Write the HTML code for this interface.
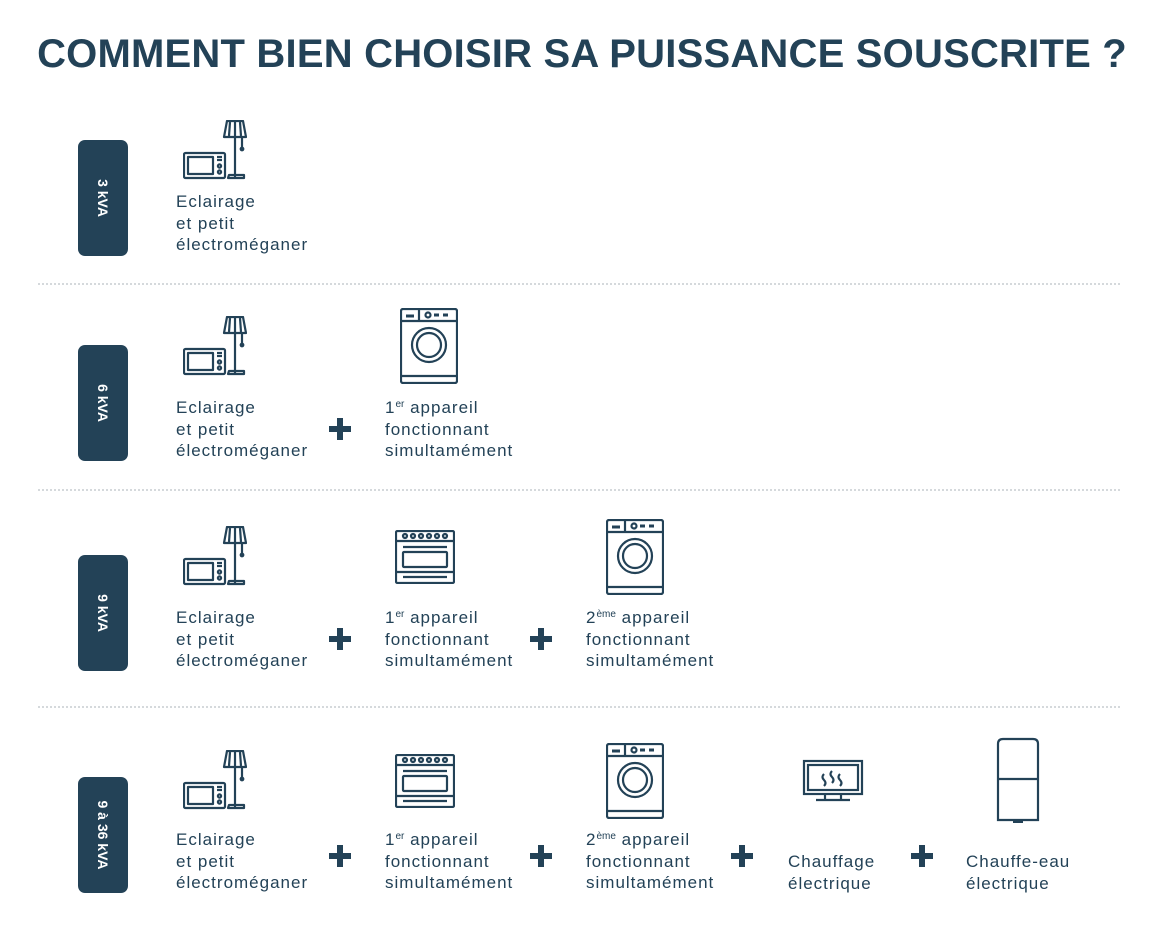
<!DOCTYPE html>
<html><head><meta charset="utf-8"><style>
body{margin:0;width:1164px;height:935px;background:#fff;position:relative;overflow:hidden;font-family:"Liberation Sans",sans-serif;color:#234257}
.t{position:absolute;left:0;width:1164px;top:32px;text-align:center;font-weight:bold;font-size:40px;letter-spacing:0.2px}
.b{position:absolute;left:78px;width:50px;height:116px;background:#234257;border-radius:7px}
.b span{position:absolute;left:50%;top:50%;transform:translate(-50%,-50%) rotate(90deg);white-space:nowrap;color:#fff;font-weight:bold;font-size:14px}
.l{position:absolute;font-size:17px;line-height:21.5px;white-space:nowrap;letter-spacing:1px}
.l sup{font-size:10px;vertical-align:6px;line-height:0;letter-spacing:0}
.p{position:absolute;width:22px;height:22px}
.p:before{content:"";position:absolute;left:0;top:8px;width:22px;height:6px;background:#234257}
.p:after{content:"";position:absolute;left:8px;top:0;width:6px;height:22px;background:#234257}
.d{position:absolute;left:38px;width:1082px;border-top:2px dotted #d5d9dc}
svg{position:absolute;overflow:visible}
</style></head><body>
<svg width="0" height="0" style="position:absolute">
<defs>
<symbol id="lm" viewBox="0 0 64 60"><g fill="none" stroke="#234257" stroke-width="2.2" stroke-linejoin="round">
<rect x="1" y="33" width="41" height="25" rx="1.5"/><rect x="5" y="37" width="25" height="17"/>
<line x1="34" y1="37" x2="39" y2="37"/><line x1="34" y1="40" x2="39" y2="40"/><circle cx="36.5" cy="46" r="1.6"/><circle cx="36.5" cy="52" r="1.6"/>
<path d="M44 1H60L63 17H41Z"/><line x1="47" y1="2" x2="46" y2="16"/><line x1="52" y1="2" x2="52" y2="16"/><line x1="57" y1="2" x2="58" y2="16"/>
<line x1="52" y1="17" x2="52" y2="57"/><line x1="59" y1="17" x2="59" y2="28"/><circle cx="59" cy="29" r="1.3" fill="#234257"/>
<path d="M45 58H61V55H46Z"/></g></symbol>
<symbol id="ov" viewBox="0 0 60 54"><g fill="none" stroke="#234257" stroke-width="2.2">
<rect x="1" y="1" width="58" height="52" rx="1.5"/><line x1="1" y1="11" x2="59" y2="11"/>
<circle cx="10" cy="6" r="2"/><circle cx="18" cy="6" r="2"/><circle cx="26" cy="6" r="2"/><circle cx="34" cy="6" r="2"/><circle cx="42" cy="6" r="2"/><circle cx="50" cy="6" r="2"/>
<line x1="8" y1="17" x2="52" y2="17"/><rect x="8" y="22" width="44" height="15" rx="1"/><line x1="1" y1="42" x2="59" y2="42"/><line x1="8" y1="47" x2="52" y2="47"/></g></symbol>
<symbol id="wm" viewBox="0 0 58 76"><g fill="none" stroke="#234257" stroke-width="2.2">
<rect x="1" y="1" width="56" height="74" rx="2"/><line x1="1" y1="13" x2="57" y2="13"/><line x1="19" y1="1" x2="19" y2="13"/>
<line x1="6" y1="8" x2="14" y2="8" stroke-width="3"/><circle cx="28" cy="7" r="2.5"/><line x1="34" y1="7" x2="39" y2="7" stroke-width="3"/><line x1="43" y1="7" x2="48" y2="7" stroke-width="3"/>
<circle cx="29" cy="37" r="17"/><circle cx="29" cy="37" r="12"/><line x1="1" y1="68" x2="57" y2="68"/></g></symbol>
</defs></svg>

<div class="t">COMMENT BIEN CHOISIR SA PUISSANCE SOUSCRITE ?</div>

<div class="b" style="top:140px"><span>3 kVA</span></div>
<div class="b" style="top:345px"><span>6 kVA</span></div>
<div class="b" style="top:555px"><span>9 kVA</span></div>
<div class="b" style="top:777px"><span>9 à 36 kVA</span></div>

<div class="d" style="top:283px"></div>
<div class="d" style="top:489px"></div>
<div class="d" style="top:706px"></div>

<svg style="left:183px;top:120px" width="64" height="60"><use href="#lm"/></svg>
<div class="l" style="left:176px;top:191px">Eclairage<br>et petit<br>électroméganer</div>

<svg style="left:183px;top:316px" width="64" height="60"><use href="#lm"/></svg>
<div class="l" style="left:176px;top:397px">Eclairage<br>et petit<br>électroméganer</div>
<div class="p" style="left:329px;top:418px"></div>
<svg style="left:400px;top:308px" width="58" height="76"><use href="#wm"/></svg>
<div class="l" style="left:385px;top:397px">1<sup>er</sup> appareil<br>fonctionnant<br>simultamément</div>

<svg style="left:183px;top:526px" width="64" height="60"><use href="#lm"/></svg>
<div class="l" style="left:176px;top:607px">Eclairage<br>et petit<br>électroméganer</div>
<div class="p" style="left:329px;top:628px"></div>
<svg style="left:395px;top:530px" width="60" height="54"><use href="#ov"/></svg>
<div class="l" style="left:385px;top:607px">1<sup>er</sup> appareil<br>fonctionnant<br>simultamément</div>
<div class="p" style="left:530px;top:628px"></div>
<svg style="left:606px;top:519px" width="58" height="76"><use href="#wm"/></svg>
<div class="l" style="left:586px;top:607px">2<sup>ème</sup> appareil<br>fonctionnant<br>simultamément</div>

<svg style="left:183px;top:750px" width="64" height="60"><use href="#lm"/></svg>
<div class="l" style="left:176px;top:829px">Eclairage<br>et petit<br>électroméganer</div>
<div class="p" style="left:329px;top:845px"></div>
<svg style="left:395px;top:754px" width="60" height="54"><use href="#ov"/></svg>
<div class="l" style="left:385px;top:829px">1<sup>er</sup> appareil<br>fonctionnant<br>simultamément</div>
<div class="p" style="left:530px;top:845px"></div>
<svg style="left:606px;top:743px" width="58" height="76"><use href="#wm"/></svg>
<div class="l" style="left:586px;top:829px">2<sup>ème</sup> appareil<br>fonctionnant<br>simultamément</div>
<div class="p" style="left:731px;top:845px"></div>
<svg style="left:803px;top:760px" width="60" height="42"><g fill="none" stroke="#234257" stroke-width="2.2">
<rect x="1" y="1" width="58" height="33"/><rect x="5" y="5" width="50" height="25"/>
<path d="M21 14q-3 3 0 6t0 6M29 11q-3 3 0 6t0 6M37 14q-3 3 0 6t0 6"/>
<line x1="22" y1="34" x2="22" y2="40"/><line x1="38" y1="34" x2="38" y2="40"/><line x1="13" y1="40" x2="47" y2="40"/></g></svg>
<div class="l" style="left:788px;top:851px">Chauffage<br>électrique</div>
<div class="p" style="left:911px;top:845px"></div>
<svg style="left:997px;top:738px" width="42" height="86"><g fill="none" stroke="#234257" stroke-width="2.2">
<path d="M1 82V6q0-5 5-5h30q5 0 5 5v76Z"/><line x1="1" y1="41" x2="41" y2="41"/></g>
<rect x="16" y="82" width="10" height="3" fill="#234257"/></svg>
<div class="l" style="left:966px;top:851px">Chauffe-eau<br>électrique</div>
</body></html>
